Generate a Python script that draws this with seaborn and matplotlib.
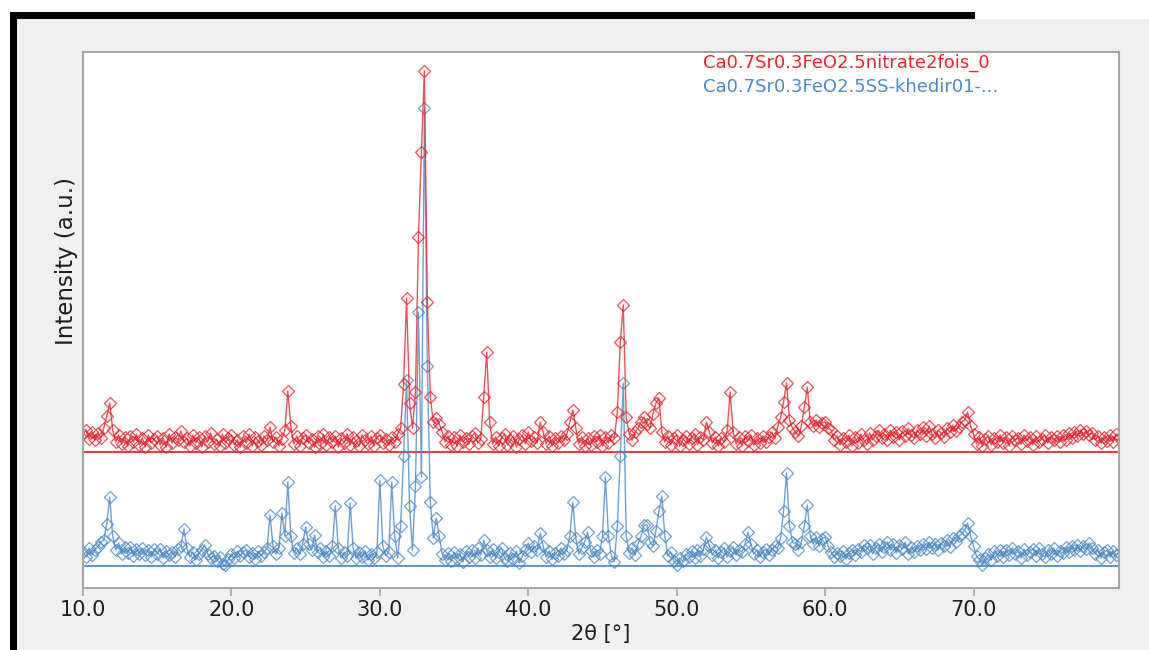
import numpy as np
import pandas as pd
import matplotlib
matplotlib.use("Agg")
import matplotlib.pyplot as plt
from matplotlib.lines import Line2D
from matplotlib.patches import Rectangle
import seaborn as sns

# Scan grid (degrees 2-theta)
TWO_THETA_START = 10.0
TWO_THETA_STEP = 0.2
TWO_THETA_END = 79.8

# Diffracted intensity (a.u.), five steps per degree, one chunk per degree from 10 to 79
nitrate_counts = [
    18, 22, 13, 20, 12,   19, 14, 24, 36, 49,   22, 10, 17, 8, 15,    6, 16, 10, 18, 7,
    14, 5, 17, 9, 13,     16, 7, 14, 5, 18,     9, 15, 12, 21, 10,    14, 6, 17, 9, 15,
    5, 16, 10, 19, 8,     13, 6, 18, 9, 14,     17, 7, 12, 5, 16,     9, 18, 6, 15, 11,
    7, 16, 12, 25, 10,    15, 6, 13, 22, 61,    26, 8, 16, 6, 14,     17, 9, 13, 5, 16,
    8, 18, 7, 15, 10,     16, 5, 14, 9, 18,     7, 15, 11, 6, 17,     12, 8, 16, 6, 14,
    17, 9, 13, 7, 15,     10, 18, 24, 68, 154,  49, 24, 60, 215, 300,  381, 150, 55, 30, 34,
    28, 20, 10, 16, 7,    15, 6, 17, 10, 14,    8, 16, 19, 9, 13,     55, 100, 30, 8, 15,
    6, 14, 18, 7, 12,     16, 5, 13, 17, 8,     20, 11, 15, 9, 30,    20, 8, 16, 6, 14,
    9, 16, 12, 18, 30,    42, 24, 8, 15, 6,     14, 7, 16, 10, 17,    6, 15, 9, 17, 14,
    40, 110, 147, 35, 18, 12, 20, 24, 30, 35,   28, 24, 38, 49, 54,   20, 10, 16, 7, 14,
    17, 6, 12, 16, 8,     14, 18, 7, 15, 12,    30, 20, 9, 15, 6,     14, 10, 22, 60, 20,
    8, 15, 6, 16, 11,     17, 7, 14, 9, 16,     10, 15, 20, 14, 25,   35, 50, 69, 32, 24,
    20, 16, 26, 45, 65,   30, 26, 32, 25, 29,   30, 24, 22, 12, 16,   7, 14, 10, 17, 6,
    15, 9, 18, 12, 8,     19, 12, 16, 22, 14,   18, 12, 22, 15, 20,   12, 21, 16, 24, 17,
    14, 22, 18, 25, 16,   26, 18, 14, 22, 19,   15, 24, 20, 27, 21,   25, 30, 32, 40, 26,
    18, 8, 15, 6, 13,     16, 7, 14, 10, 17,    9, 15, 6, 16, 12,     14, 8, 17, 11, 15,
    7, 16, 10, 13, 17,    9, 15, 12, 16, 10,    17, 12, 19, 14, 20,   16, 22, 18, 21, 17,
    19, 12, 16, 9, 15,    11, 17, 10, 18, 14,
]

solid_state_counts = [
    14, 9, 18, 11, 16,    19, 24, 26, 42, 69,   30, 16, 23, 12, 19,   13, 19, 10, 17, 12,
    18, 11, 16, 9, 17,    12, 17, 8, 15, 11,    14, 9, 17, 20, 37,    18, 9, 14, 6, 12,
    16, 21, 12, 8, 10,    5, 9, 2, 1, 7,        12, 8, 15, 10, 14,    16, 9, 13, 7, 15,
    10, 14, 18, 51, 20,   12, 18, 53, 30, 84,   30, 13, 18, 12, 22,   39, 22, 16, 31, 14,
    18, 9, 15, 10, 20,    60, 18, 8, 14, 10,    63, 18, 8, 14, 9,     15, 6, 12, 8, 14,
    86, 20, 10, 14, 84,   30, 8, 40, 110, 186,  60, 16, 80, 254, 89,  458, 200, 64, 28, 48,
    30, 12, 6, 13, 5,     14, 7, 12, 4, 15,     9, 16, 8, 18, 11,     26, 16, 9, 17, 8,
    14, 18, 8, 5, 13,     7, 15, 3, 10, 16,     23, 14, 20, 16, 33,   20, 9, 15, 7, 13,
    10, 18, 12, 16, 30,   64, 28, 12, 18, 24,   34, 15, 9, 16, 12,    30, 89, 30, 10, 4,
    40, 110, 183, 30, 13, 18, 11, 22, 30, 41,   41, 24, 20, 35, 55,   70, 30, 10, 14, 5,
    1, 8, 5, 12, 9,       15, 8, 16, 10, 17,    29, 20, 11, 16, 8,    14, 18, 9, 15, 19,
    11, 16, 14, 22, 34,   22, 12, 16, 9, 14,    17, 11, 16, 20, 18,   28, 55, 93, 40, 24,
    22, 16, 24, 40, 61,   30, 22, 29, 20, 27,   29, 20, 14, 9, 13,    10, 15, 7, 13, 16,
    11, 17, 14, 21, 18,   21, 12, 18, 22, 14,   19, 24, 16, 22, 13,   21, 17, 24, 12, 19,
    14, 20, 16, 22, 17,   24, 18, 22, 16, 23,   20, 26, 19, 28, 24,   30, 32, 36, 43, 30,
    20, 10, 6, 1, 8,      12, 6, 15, 10, 16,    9, 16, 11, 18, 12,    15, 8, 17, 11, 14,
    17, 10, 18, 12, 9,    16, 12, 18, 10, 15,   13, 19, 14, 20, 16,   21, 15, 20, 17, 23,
    18, 12, 16, 8, 14,    16, 9, 15, 11, 13,
]

series_names = [
    "Ca0.7Sr0.3FeO2.5nitrate2fois_0",
    "Ca0.7Sr0.3FeO2.5SS-khedir01-...",
]
x_ticks = [10.0, 20.0, 30.0, 40.0, 50.0, 60.0, 70.0]

# Vertical stacking of the two patterns
STACK_OFFSET = 114
RED = "#e8242e"
BLUE = "#4a8ac6"
FRAME_GREY = "#a6a6a6"
TEXT_DARK = "#1e1e1e"

two_theta = np.round(np.arange(TWO_THETA_START, TWO_THETA_END + 1e-6, TWO_THETA_STEP), 2)

df = pd.concat([
    pd.DataFrame({"two_theta": two_theta,
                  "intensity": np.asarray(nitrate_counts) + STACK_OFFSET,
                  "pattern": series_names[0]}),
    pd.DataFrame({"two_theta": two_theta,
                  "intensity": np.asarray(solid_state_counts),
                  "pattern": series_names[1]}),
], ignore_index=True)

sns.set_theme(style="white")
plt.rcParams["font.family"] = ["DejaVu Sans"]

fig = plt.figure(figsize=(11.49, 6.5), dpi=100)
fig.patch.set_facecolor("white")

W, H = 1149, 650
def px_rect(x0, y0, x1, y1, color):
    fig.add_artist(Rectangle((x0 / W, 1 - y1 / H), (x1 - x0) / W, (y1 - y0) / H,
                             transform=fig.transFigure, facecolor=color,
                             edgecolor="none", zorder=-10))

# window frame
px_rect(17, 19, 1149, 650, "#f0f0f0")
px_rect(10, 12, 975, 19, "black")
px_rect(10, 12, 17, 650, "black")

ax = fig.add_axes([83 / W, 1 - 588 / H, (1119 - 83) / W, (588 - 52) / H])
ax.set_facecolor("white")

colors = {series_names[0]: RED, series_names[1]: BLUE}
for name, offset in [(series_names[1], 0), (series_names[0], STACK_OFFSET)]:
    sub = df[df["pattern"] == name]
    ax.axhline(offset, color=colors[name], lw=1.4, alpha=0.9, zorder=1)
    sns.lineplot(data=sub, x="two_theta", y="intensity", ax=ax,
                 color=colors[name], lw=1.0, alpha=0.8,
                 marker="D", markersize=6.5, markerfacecolor="none",
                 markeredgecolor=colors[name], markeredgewidth=0.9,
                 legend=False, zorder=2)

ax.set_xlim(10.0, 79.8)
ax.set_ylim(-22, 514)
ax.set_xticks(x_ticks)
ax.set_xticklabels([f"{t:.1f}" for t in x_ticks])
ax.set_yticks([])
ax.tick_params(axis="x", bottom=True, length=6, width=1.2, color=FRAME_GREY,
               labelsize=15, labelcolor=TEXT_DARK, pad=2.5)
for s in ax.spines.values():
    s.set_color(FRAME_GREY)
    s.set_linewidth(1.5)

ax.set_xlabel("2θ [°]", fontsize=15, color=TEXT_DARK, labelpad=3)
ax.set_ylabel("Intensity (a.u.)", fontsize=16.5, color=TEXT_DARK)
ax.yaxis.set_label_coords(-0.005, 0.61)

handles = [Line2D([], [], linestyle="none") for _ in series_names]
ax.legend(handles, series_names, loc="upper left", bbox_to_anchor=(0.597, 1.0),
          frameon=False, handlelength=0, handletextpad=0, borderaxespad=0.0,
          borderpad=0.1, labelspacing=0.35, fontsize=13, labelcolor=[RED, BLUE])

fig.savefig("out.png", dpi=100)
